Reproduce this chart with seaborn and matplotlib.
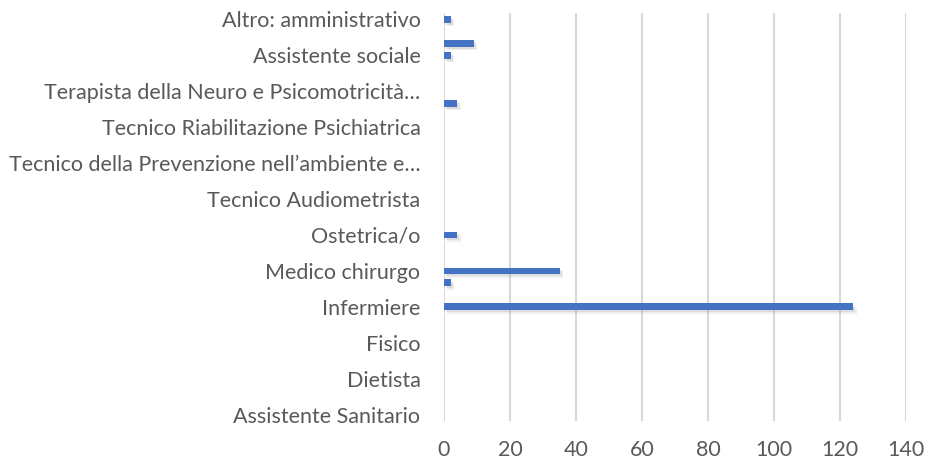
import numpy as np
import pandas as pd
import matplotlib
matplotlib.use("Agg")
import matplotlib.pyplot as plt
import matplotlib.patheffects as pe
import seaborn as sns

categories = [
    "Altro: amministrativo",
    "Assistente sociale",
    "Terapista della Neuro e Psicomotricità…",
    "Tecnico Riabilitazione Psichiatrica",
    "Tecnico della Prevenzione nell’ambiente e…",
    "Tecnico Audiometrista",
    "Ostetrica/o",
    "Medico chirurgo",
    "Infermiere",
    "Fisico",
    "Dietista",
    "Assistente Sanitario",
]
series_names = ["Serie 1", "Serie 2", "Serie 3"]
serie1 = [0, 9, 0, 0, 0, 0, 0, 0, 0, 0, 0, 0]
serie2 = [2, 2, 0, 0, 0, 0, 4, 35, 124, 0, 0, 0]
serie3 = [0, 0, 4, 0, 0, 0, 0, 2, 0, 0, 0, 0]
x_ticks = [0, 20, 40, 60, 80, 100, 120, 140]

rows = []
for name, vals in zip(series_names, [serie1, serie2, serie3]):
    for c, v in zip(categories, vals):
        rows.append({"categoria": c, "valore": v, "serie": name})
df = pd.DataFrame(rows)

sns.set_theme(style="white")
plt.rcParams["font.family"] = ["Lato", "DejaVu Sans"]

fig = plt.figure(figsize=(9.31, 4.65), dpi=100)
ax = fig.add_axes([444 / 931, 1 - 421 / 465, 462 / 931, 408 / 465])

blue = "#4472C4"
sns.barplot(data=df, y="categoria", x="valore", hue="serie", order=categories,
            hue_order=series_names, orient="h", width=1.0, gap=0.44,
            palette=[blue] * 3, legend=False, ax=ax, saturation=1)

for p in ax.patches:
    p.set_edgecolor("none")
    p.set_path_effects([
        pe.SimplePatchShadow(offset=(2.5, -2.5), shadow_rgbFace="#999999", alpha=0.15),
        pe.SimplePatchShadow(offset=(1.5, -1.5), shadow_rgbFace="#999999", alpha=0.2),
        pe.Normal()])

ax.set_xlim(0, 140)
ax.set_ylim(len(categories) - 1 + 0.18, -0.18)
ax.set_xticks(x_ticks)
ax.set_xticklabels([str(t) for t in x_ticks])
ax.grid(axis="x", color="#D9D9D9", linewidth=1.5)
ax.grid(axis="y", visible=False)
ax.set_axisbelow(True)
for s in ax.spines.values():
    s.set_visible(False)
ax.set_xlabel("")
ax.set_ylabel("")
ax.tick_params(axis="both", length=0, labelsize=15.5, labelcolor="#595959")
ax.tick_params(axis="y", pad=17)
ax.tick_params(axis="x", pad=14)

fig.savefig("out.png", dpi=100)
